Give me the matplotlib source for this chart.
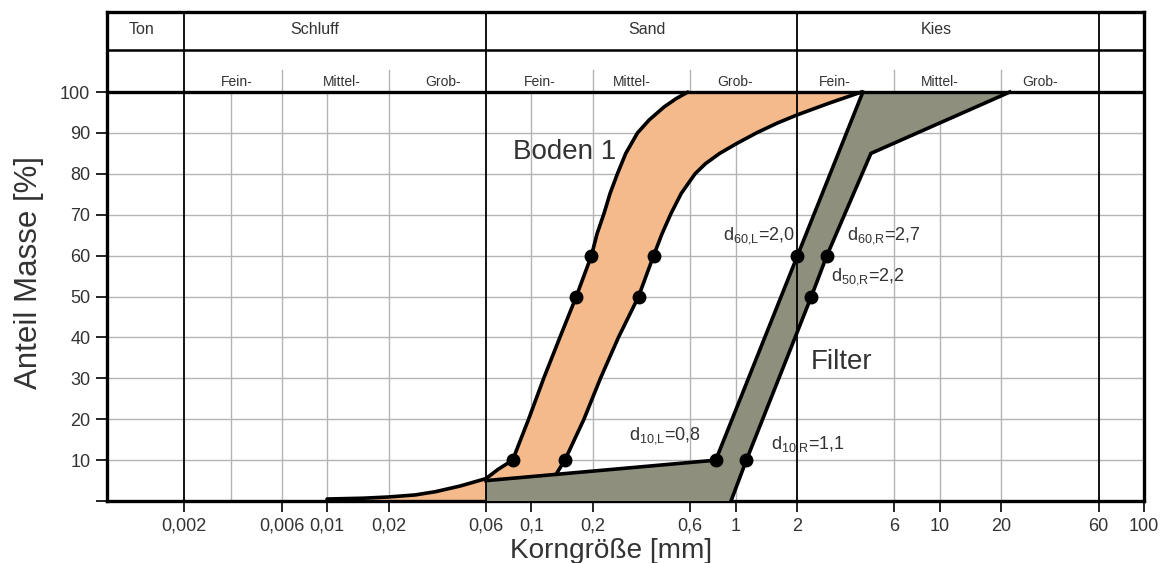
import matplotlib.pyplot as plt

plt.rcParams['font.family'] = ['Liberation Sans', 'DejaVu Sans']
plt.rcParams['mathtext.default'] = 'regular'

# x axis (grain size in mm)
tick_values = [0.002, 0.006, 0.01, 0.02, 0.06, 0.1, 0.2, 0.6, 1, 2, 6, 10, 20, 60, 100]
tick_labels = ['0,002', '0,006', '0,01', '0,02', '0,06', '0,1', '0,2', '0,6',
               '1', '2', '6', '10', '20', '60', '100']
major_bounds = [0.002, 0.06, 2, 60]
sub_bounds = [0.006, 0.02, 0.2, 0.6, 6, 20]
minor_grid = [0.0034, 0.01, 0.1, 1, 10]

# header rows
main_names = ['Ton', 'Schluff', 'Sand', 'Kies']
main_pos = [0.00124, 0.0087, 0.37, 9.6]
sub_names = ['Fein-', 'Mittel-', 'Grob-'] * 3
sub_pos = [0.0036, 0.0118, 0.037, 0.11, 0.31, 1.0, 3.07, 10, 31]

# Boden 1 band
boden_left_d = [0.01, 0.015, 0.02, 0.027, 0.034, 0.045, 0.06, 0.069, 0.081, 0.097,
                0.115, 0.138, 0.166, 0.197, 0.210, 0.227, 0.243, 0.264, 0.290, 0.331,
                0.378, 0.448, 0.512, 0.584]
boden_left_p = [0.5, 0.7, 1, 1.5, 2.3, 3.7, 5.5, 7.8, 10, 20,
                30, 40, 50, 60, 65.4, 70.3, 75.2, 80, 85, 90,
                93.2, 96.4, 98.4, 100]
boden_right_d = [0.132, 0.146, 0.181, 0.218, 0.267, 0.335, 0.397, 0.437, 0.483, 0.542,
                 0.633, 0.713, 0.836, 1.02, 1.265, 1.598, 2.0, 2.84, 4.13]
boden_right_p = [6.5, 10, 20, 30, 40, 50, 60, 65.4, 70.3, 75.2,
                 80, 82.5, 85, 87.5, 90, 92.4, 94.4, 97.2, 100]
boden_base_d = [0.1, 0.01]
boden_base_p = [0, 0]
boden_dot_d = [0.081, 0.166, 0.197, 0.146, 0.335, 0.397]
boden_dot_p = [10, 50, 60, 10, 50, 60]

# Filter band
filter_left_d = [0.06, 0.8, 4.2]
filter_left_p = [5, 10, 100]
filter_right_d = [0.95, 1.13, 2.35, 2.8, 4.6, 22]
filter_right_p = [0, 10, 50, 60, 85, 100]
filter_dot_d = [0.8, 2.0, 1.13, 2.35, 2.8]
filter_dot_p = [10, 60, 10, 50, 60]

text_col = '#333333'
grid_col = '#b4b4b4'
y_top = 119.56
y_mid = 110.27


def main():
    fig = plt.figure(figsize=(11.63, 5.63), dpi=100)
    ax = fig.add_axes([0.092, 0.110, 0.8917, 0.8686])
    ax.set_xscale('log')
    ax.set_xlim(8.37e-4, 100)
    ax.set_ylim(0, y_top)

    # grid
    for y in range(10, 100, 10):
        ax.axhline(y, color=grid_col, lw=1, zorder=1)
    for x in minor_grid:
        ax.plot([x, x], [0, 100], color=grid_col, lw=1, zorder=1)
    for x in sub_bounds:
        ax.plot([x, x], [0, 105.4], color=grid_col, lw=1, zorder=1)
    for x in major_bounds:
        ax.axvline(x, color='black', lw=1.3, zorder=6)
    ax.axhline(100, color='black', lw=2.4, zorder=6)
    ax.axhline(y_mid, color='black', lw=1.8, zorder=6)

    # Boden 1 fill
    bx = boden_left_d + boden_right_d[::-1] + boden_base_d
    by = boden_left_p + boden_right_p[::-1] + boden_base_p
    ax.fill(bx, by, color='#f4ba8c', lw=0, zorder=2)

    # Filter fill
    fx = [0.06] + filter_left_d + filter_right_d[::-1] + [0.06]
    fy = [0] + filter_left_p + filter_right_p[::-1] + [0]
    ax.fill(fx, fy, color='#8f8f7d', lw=0, zorder=3)

    # curves
    ax.plot(boden_left_d, boden_left_p, color='black', lw=2.6, zorder=4, solid_capstyle='round')
    ax.plot(boden_right_d, boden_right_p, color='black', lw=2.6, zorder=4, solid_capstyle='round')
    ax.plot(filter_left_d, filter_left_p, color='black', lw=2.6, zorder=4, solid_joinstyle='miter')
    ax.plot(filter_right_d, filter_right_p, color='black', lw=2.6, zorder=4, solid_joinstyle='miter')
    ax.plot(boden_dot_d, boden_dot_p, 'o', color='black', ms=9, zorder=5)
    ax.plot(filter_dot_d, filter_dot_p, 'o', color='black', ms=9, zorder=5)

    # labels in plot
    ax.text(0.081, 85.3, 'Boden 1', fontsize=20, color=text_col, va='center', zorder=7)
    ax.text(2.33, 34.1, 'Filter', fontsize=20, color=text_col, va='center', zorder=7)
    ax.text(1.95, 65, r'd$_{60{,}L}$=2,0', fontsize=13, color=text_col, ha='right', va='center', zorder=7)
    ax.text(3.52, 65, r'd$_{60{,}R}$=2,7', fontsize=13, color=text_col, va='center', zorder=7)
    ax.text(2.92, 54.8, r'd$_{50{,}R}$=2,2', fontsize=13, color=text_col, va='center', zorder=7)
    ax.text(0.30, 16.1, r'd$_{10{,}L}$=0,8', fontsize=13, color=text_col, va='center', zorder=7)
    ax.text(1.49, 13.7, r'd$_{10{,}R}$=1,1', fontsize=13, color=text_col, va='center', zorder=7)

    # header texts
    for name, x in zip(main_names, main_pos):
        ax.text(x, 115.2, name, fontsize=11.5, color=text_col, ha='center', va='center')
    for name, x in zip(sub_names, sub_pos):
        ax.text(x, 102.4, name, fontsize=10, color=text_col, ha='center', va='center')

    # axes
    ax.set_xticks(tick_values)
    ax.set_xticklabels(tick_labels)
    ax.minorticks_off()
    ax.set_yticks(range(0, 101, 10))
    ax.set_yticklabels([''] + [str(v) for v in range(10, 101, 10)])
    ax.tick_params(axis='both', direction='out', length=8, width=1.2, labelsize=13,
                   labelcolor=text_col, pad=4)
    for val, tick in zip(tick_values, ax.xaxis.get_major_ticks()):
        if val not in major_bounds and val != 100:
            tick.tick1line.set_color(grid_col)
    for side in ['left', 'right', 'top', 'bottom']:
        ax.spines[side].set_linewidth(2.4)
    ax.set_xlabel('Korngröße [mm]', fontsize=20.2, color=text_col, va='center')
    ax.xaxis.set_label_coords(0.4865, -0.102)
    ax.set_ylabel('Anteil Masse [%]', fontsize=22.5, color=text_col)
    ax.yaxis.set_label_coords(-0.061, 0.468)

    plt.savefig('out.png', dpi=100)


if __name__ == '__main__':
    main()
